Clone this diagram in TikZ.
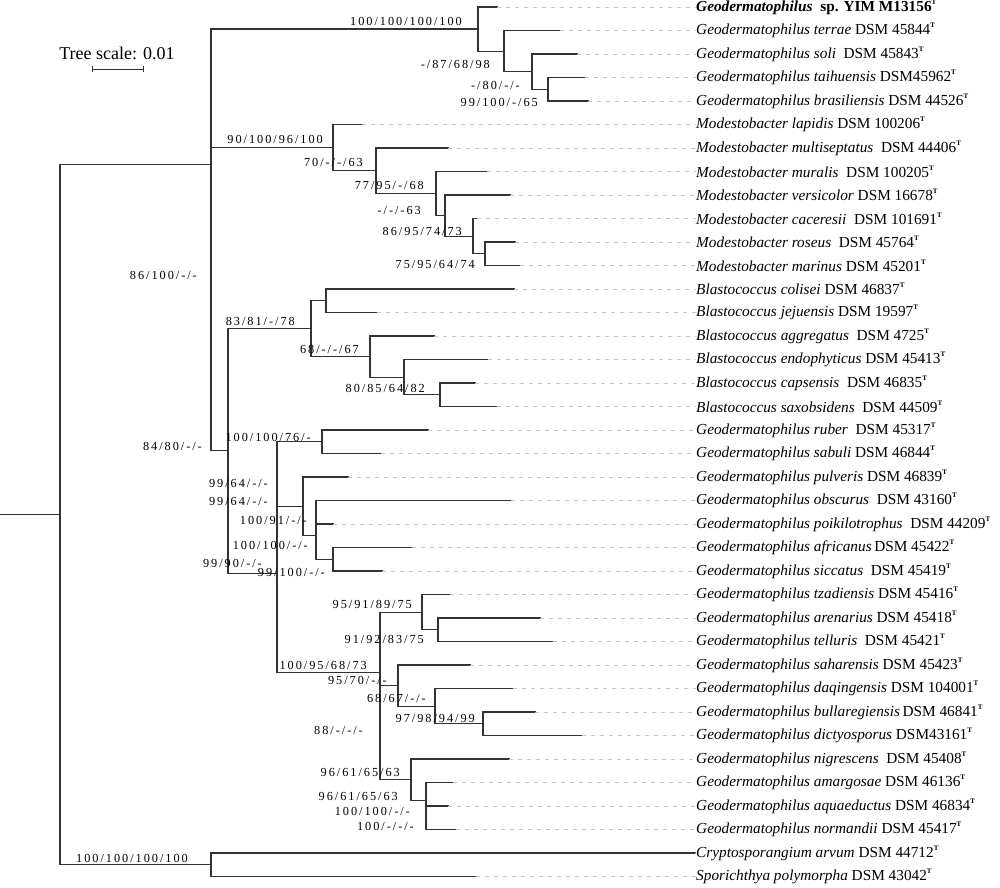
\documentclass[tikz,border=0pt]{standalone}
\usepackage{fontspec}
\setmainfont{Liberation Serif}
\newfontfamily\lblfont[LetterSpace=16]{Liberation Serif}
\usetikzlibrary{arrows.meta}
\definecolor{brc}{HTML}{333333}
\definecolor{dsh}{HTML}{C4C4C4}
\newcommand\sT{\raisebox{0.45em}{\fontsize{7}{8}\selectfont\bfseries T}}
\tikzset{
  br/.style={draw=brc, line width=1.1pt, line cap=rect},
  ld/.style={draw=dsh, line width=0.8pt, dash pattern=on 4pt off 5pt},
  nm/.style={anchor=west, inner sep=0pt, font=\fontsize{15.3}{18}\selectfont},
  bs/.style={anchor=east, inner sep=0pt, font=\lblfont\fontsize{12.3}{14}\selectfont},
}
\newcommand\leaf[4]{%
  \coordinate (t#1) at (#2, {7+23.5*#1});
  \node[nm] (n#1) at (696, {7+23.5*#1}) {#4};
  \draw[br] (#3) |- (t#1);
  \draw[ld] (t#1) -- (n#1.west);
}
\begin{document}
\begin{tikzpicture}[x=1pt, y=-1pt]
\useasboundingbox (0,0) rectangle (1000,887);
% internal nodes
\coordinate (rootstem) at (0,514.4);
\coordinate (root) at (60,514.4);
\coordinate (nA) at (211,164.1);
\coordinate (nB) at (211,299.3);
\coordinate (nOut) at (211,864.75);
\coordinate (nGeo) at (478,29.0);
\coordinate (nG2) at (504,51.05);
\coordinate (nG3) at (532,71.6);
\coordinate (nG4) at (548,89.25);
\coordinate (nMod) at (333,147.6);
\coordinate (nM2) at (376,170.8);
\coordinate (nM3) at (436,193.5);
\coordinate (nM4) at (445,215.6);
\coordinate (nM5) at (473,236.1);
\coordinate (nM6) at (485,253.75);
\coordinate (nL) at (228,450.9);
\coordinate (nBla) at (311,328.7);
\coordinate (nBl1) at (326,300.75);
\coordinate (nBl2) at (370,356.6);
\coordinate (nBl3) at (404,377.1);
\coordinate (nBl4) at (440,394.75);
\coordinate (nCc) at (277,573.2);
\coordinate (nD) at (277,474.1);
\coordinate (nR) at (322,441.75);
\coordinate (nP1) at (303,506.4);
\coordinate (nP2) at (316,535.75);
\coordinate (nP3) at (316,512.25);
\coordinate (nP4) at (333,559.25);
\coordinate (nI) at (380,672.3);
\coordinate (nT1) at (422,612.1);
\coordinate (nT2) at (438,629.75);
\coordinate (nH) at (380,732.6);
\coordinate (nS2) at (398,685.6);
\coordinate (nS3) at (435,706.1);
\coordinate (nS4) at (483,723.75);
\coordinate (nN1) at (411,779.6);
\coordinate (nN2) at (426,800.1);
\coordinate (nN3) at (426,817.75);
% internal branches
\draw[br] (rootstem) -- (root);
\foreach \p/\c in {root/nA, root/nOut, nA/nGeo, nA/nB, nB/nMod, nB/nL,
  nGeo/nG2, nG2/nG3, nG3/nG4,
  nMod/nM2, nM2/nM3, nM3/nM4, nM4/nM5, nM5/nM6,
  nL/nBla, nL/nCc, nBla/nBl1, nBla/nBl2, nBl2/nBl3, nBl3/nBl4,
  nCc/nD, nCc/nI, nD/nR, nD/nP1, nP1/nP2, nP2/nP3, nP2/nP4,
  nI/nT1, nI/nH, nT1/nT2, nH/nS2, nH/nN1, nS2/nS3, nS3/nS4, nN1/nN2, nN2/nN3}
  \draw[br] (\p) |- (\c);
% leaves
\leaf{0}{497}{nGeo}{\textbf{\textit{Geodermatophilus}}\ \ \textbf{sp. YIM M13156}\sT}
\leaf{1}{560}{nG2}{\textit{Geodermatophilus terrae} DSM 45844\sT}
\leaf{2}{577}{nG3}{\textit{Geodermatophilus soli}\ \ DSM 45843\sT}
\leaf{3}{585}{nG4}{\textit{Geodermatophilus taihuensis} DSM45962\sT}
\leaf{4}{588}{nG4}{\textit{Geodermatophilus brasiliensis} DSM 44526\sT}
\leaf{5}{362}{nMod}{\textit{Modestobacter lapidis} DSM 100206\sT}
\leaf{6}{448}{nM2}{\textit{Modestobacter multiseptatus}\ \ DSM 44406\sT}
\leaf{7}{487}{nM3}{\textit{Modestobacter muralis}\ \ DSM 100205\sT}
\leaf{8}{510}{nM4}{\textit{Modestobacter versicolor} DSM 16678\sT}
\leaf{9}{477}{nM5}{\textit{Modestobacter caceresii}\ \ DSM 101691\sT}
\leaf{10}{515}{nM6}{\textit{Modestobacter roseus}\ \ DSM 45764\sT}
\leaf{11}{520}{nM6}{\textit{Modestobacter marinus} DSM 45201\sT}
\leaf{12}{514}{nBl1}{\textit{Blastococcus colisei} DSM 46837\sT}
\leaf{13}{377}{nBl1}{\textit{Blastococcus jejuensis} DSM 19597\sT}
\leaf{14}{434}{nBl2}{\textit{Blastococcus aggregatus}\ \ DSM 4725\sT}
\leaf{15}{488}{nBl3}{\textit{Blastococcus endophyticus} DSM 45413\sT}
\leaf{16}{475}{nBl4}{\textit{Blastococcus capsensis}\ \ DSM 46835\sT}
\leaf{17}{497}{nBl4}{\textit{Blastococcus saxobsidens}\ \ DSM 44509\sT}
\leaf{18}{428}{nR}{\textit{Geodermatophilus ruber}\ \ DSM 45317\sT}
\leaf{19}{381}{nR}{\textit{Geodermatophilus sabuli} DSM 46844\sT}
\leaf{20}{348}{nP1}{\textit{Geodermatophilus pulveris} DSM 46839\sT}
\leaf{21}{511}{nP3}{\textit{Geodermatophilus obscurus}\ \ DSM 43160\sT}
\leaf{22}{333}{nP3}{\textit{Geodermatophilus poikilotrophus}\ \ DSM 44209\sT}
\leaf{23}{412}{nP4}{\textit{Geodermatophilus africanus}\,DSM 45422\sT}
\leaf{24}{382}{nP4}{\textit{Geodermatophilus siccatus}\ \ DSM 45419\sT}
\leaf{25}{450}{nT1}{\textit{Geodermatophilus tzadiensis} DSM 45416\sT}
\leaf{26}{540}{nT2}{\textit{Geodermatophilus arenarius} DSM 45418\sT}
\leaf{27}{553}{nT2}{\textit{Geodermatophilus telluris}\ \ DSM 45421\sT}
\leaf{28}{470}{nS2}{\textit{Geodermatophilus saharensis} DSM 45423\sT}
\leaf{29}{513}{nS3}{\textit{Geodermatophilus daqingensis} DSM 104001\sT}
\leaf{30}{535}{nS4}{\textit{Geodermatophilus bullaregiensis}\,DSM 46841\sT}
\leaf{31}{582}{nS4}{\textit{Geodermatophilus dictyosporus} DSM43161\sT}
\leaf{32}{509}{nN1}{\textit{Geodermatophilus nigrescens}\ \ DSM 45408\sT}
\leaf{33}{453}{nN2}{\textit{Geodermatophilus amargosae} DSM 46136\sT}
\leaf{34}{448}{nN3}{\textit{Geodermatophilus aquaeductus} DSM 46834\sT}
\leaf{35}{456}{nN3}{\textit{Geodermatophilus normandii} DSM 45417\sT}
\leaf{36}{695}{nOut}{\textit{Cryptosporangium arvum} DSM 44712\sT}
\leaf{37}{476}{nOut}{\textit{Sporichthya polymorpha} DSM 43042\sT}
% support values
\node[bs] (b1) at (462,21) {100/100/100/100};
\node[bs] (b2) at (490,64) {-/87/68/98};
\node[bs] (b3) at (520,85) {-/80/-/-};
\node[bs] (b4) at (538,102) {99/100/-/65};
\node[bs] (b5) at (323,139) {90/100/96/100};
\node[bs] (b6) at (363,162) {70/-/-/63};
\node[bs] (b7) at (424,185) {77/95/-/68};
\node[bs] (b8) at (421,210) {-/-/-63};
\node[bs] (b9) at (462,231) {86/95/74/73};
\node[bs] (b10) at (475,264) {75/95/64/74};
\node[bs] (b11) at (197,275) {86/100/-/-};
\node[bs] (b12) at (202,446) {84/80/-/-};
\node[bs] (b13) at (295,321) {83/81/-/78};
\node[bs] (b14) at (359,349) {68/-/-/67};
\node[bs] (b15) at (425,388) {80/85/64/82};
\node[bs] (b16) at (311,437) {100/100/76/-};
\node[bs] (b17) at (268,483) {99/64/-/-};
\node[bs] (b18) at (268,501) {99/64/-/-};
\node[bs] (b19) at (307,520) {100/91/-/-};
\node[bs] (b20) at (308,545) {100/100/-/-};
\node[bs] (b21) at (262,563) {99/90/-/-};
\node[bs] (b22) at (325,572) {99/100/-/-};
\node[bs] (b23) at (412,604) {95/91/89/75};
\node[bs] (b24) at (424,639) {91/92/83/75};
\node[bs] (b25) at (367,665) {100/95/68/73};
\node[bs] (b26) at (387,680) {95/70/-/-};
\node[bs] (b27) at (426,698) {68/67/-/-};
\node[bs] (b28) at (475,718) {97/98/94/99};
\node[bs] (b29) at (363,730) {88/-/-/-};
\node[bs] (b30) at (400,772) {96/61/65/63};
\node[bs] (b31) at (398,796) {96/61/65/63};
\node[bs] (b32) at (410,811) {100/100/-/-};
\node[bs] (b33) at (414,826) {100/-/-/-};
\node[bs] (b34) at (188,858) {100/100/100/100};
% tree scale
\node[inner sep=0pt, font=\fontsize{18}{20}\selectfont] (ts) at (117,53) {Tree scale: 0.01};
\coordinate (sbL) at (92,69);
\coordinate (sbR) at (144,69);
\draw[draw=brc, line width=0.9pt, {Bar[width=6pt]}-{Bar[width=6pt]}] (sbL) -- (sbR);
\end{tikzpicture}
\end{document}
